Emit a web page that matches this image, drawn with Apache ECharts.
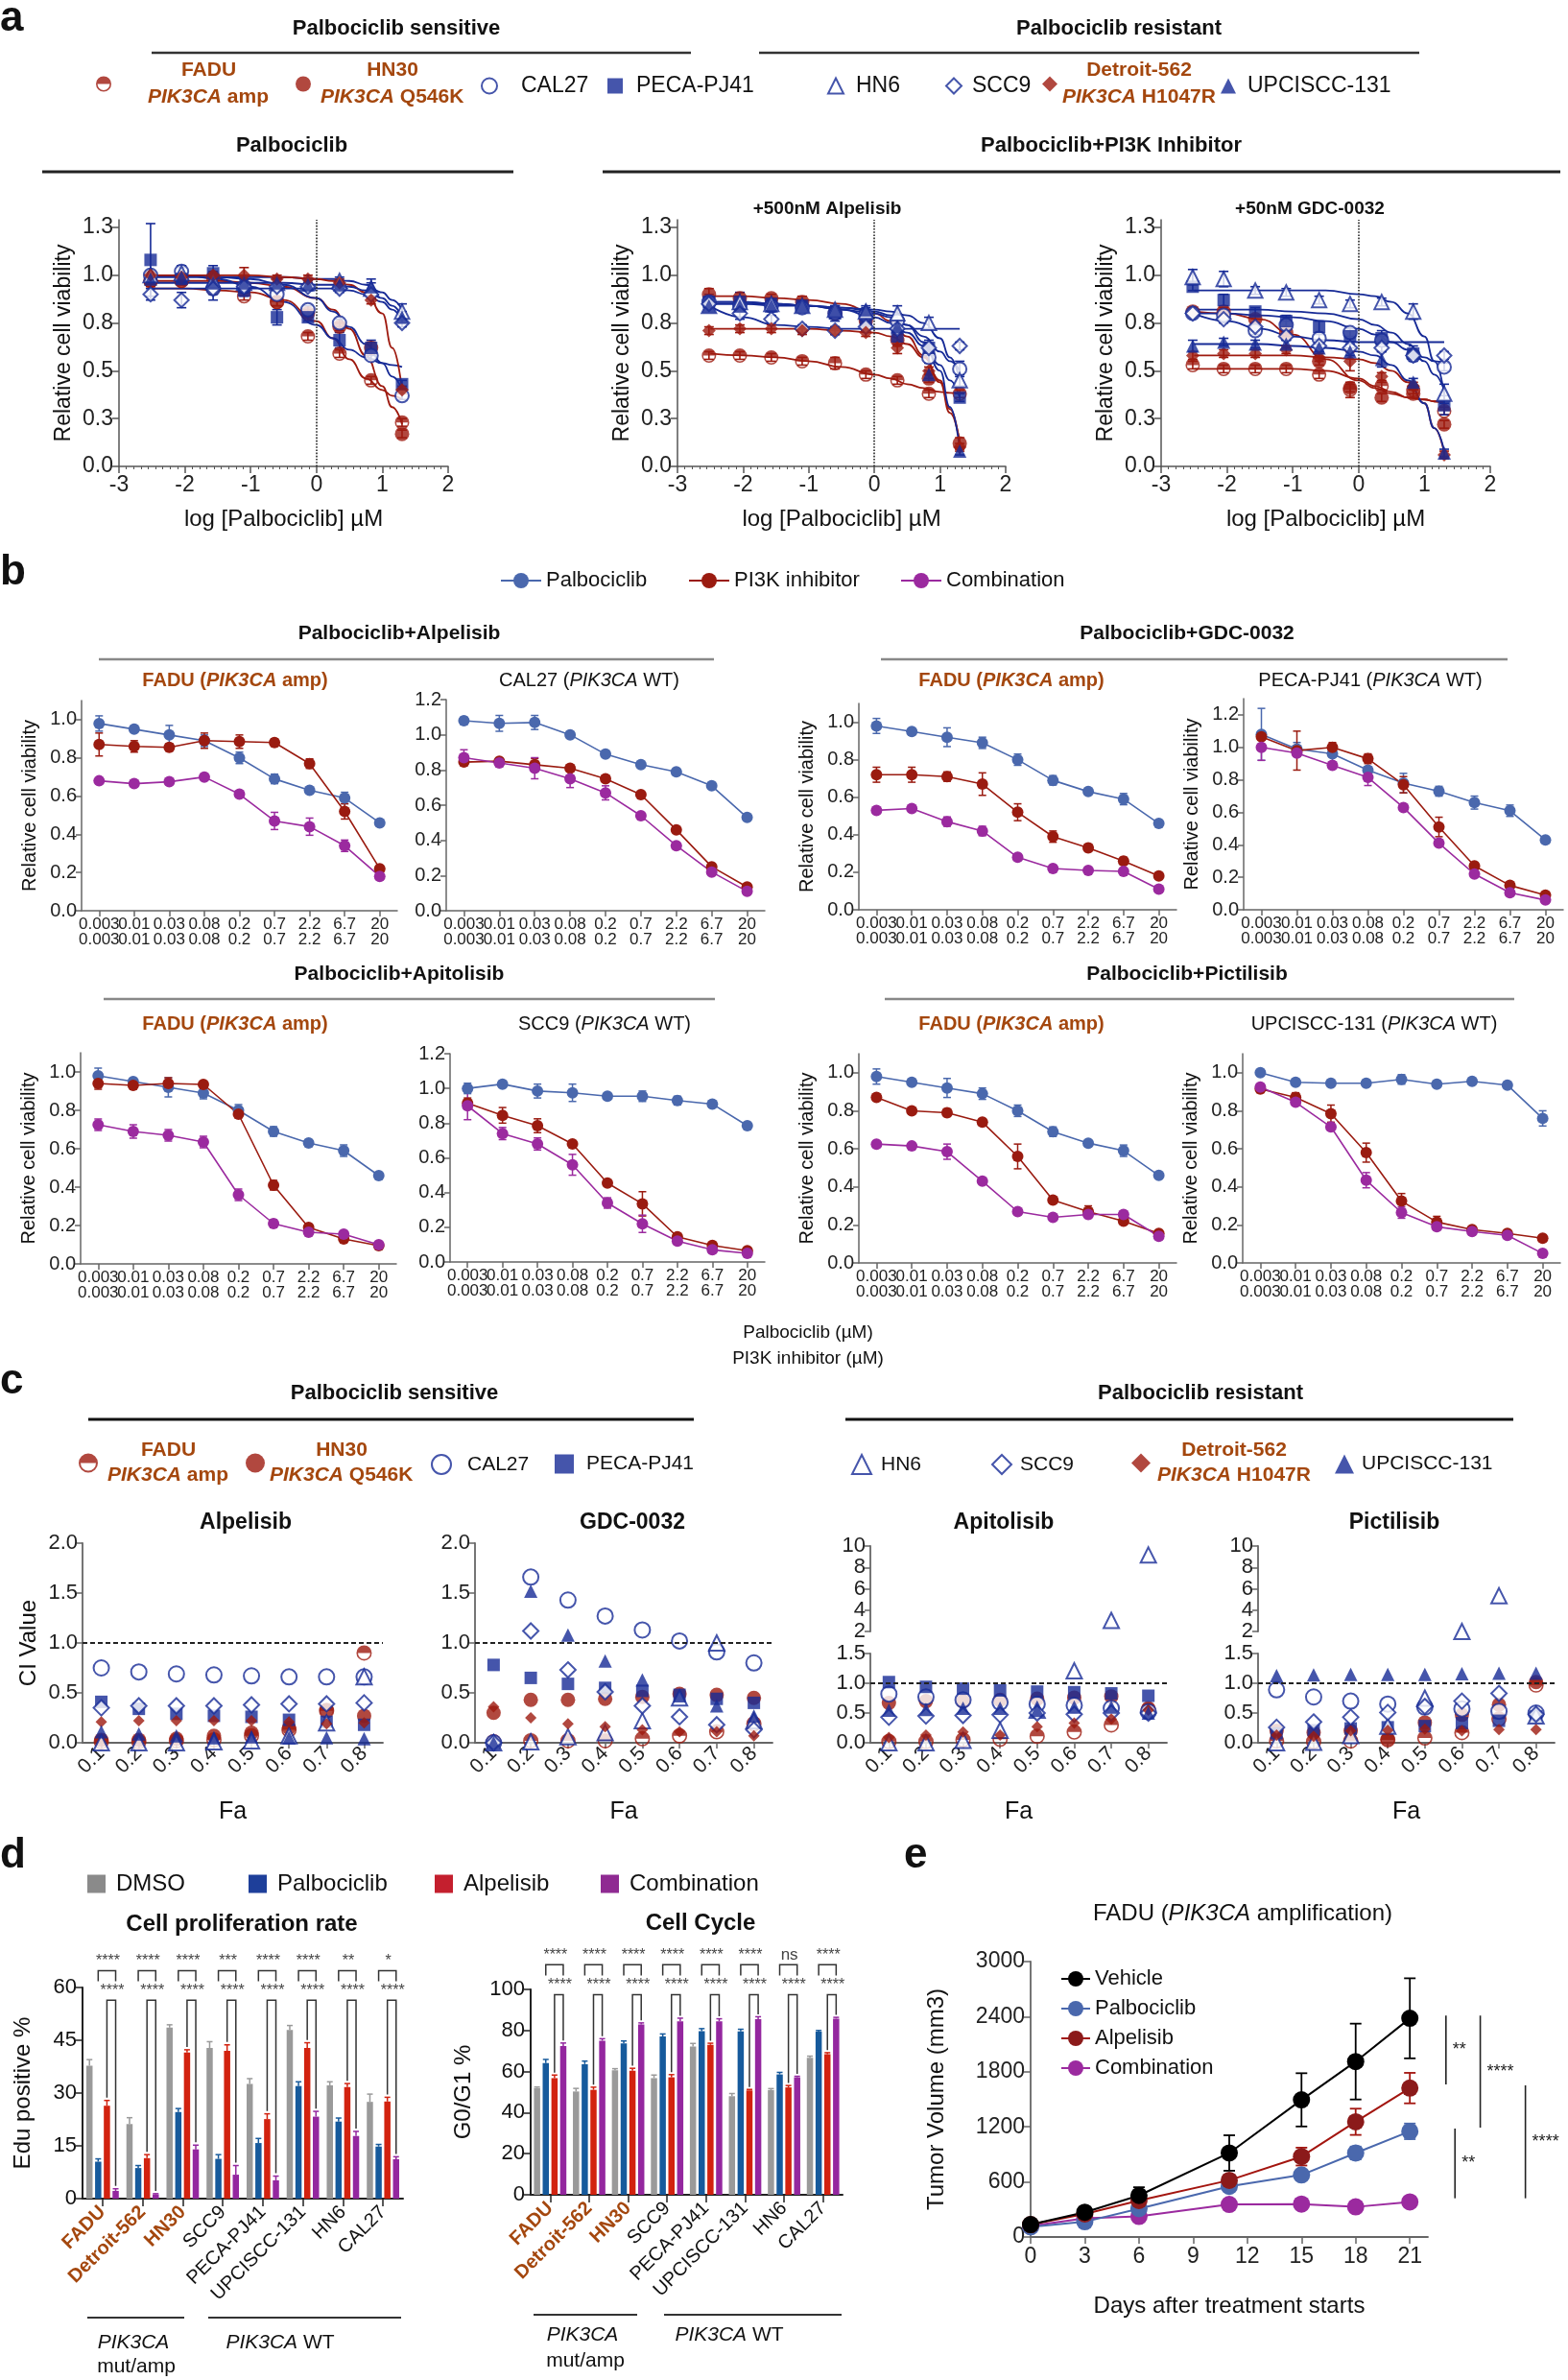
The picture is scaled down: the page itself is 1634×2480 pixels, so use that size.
<!DOCTYPE html>
<html>
<head>
<meta charset="utf-8">
<title>Palbociclib + PI3K inhibitor figure</title>
<script src="https://cdn.jsdelivr.net/npm/echarts@6.0.0/dist/echarts.min.js"></script>
<style>
html,body{margin:0;padding:0;background:#ffffff;}
#chart{width:1634px;height:2480px;}
</style>
</head>
<body>
<div id="chart"></div>
<script>
// ============================ DATA ============================
// ---- Panel a : dose-response (log µM) ----
const cellLines = ['FADU','HN30','CAL27','PECA-PJ41','HN6','SCC9','Detroit-562','UPCISCC-131'];
const aLogDose = [-2.52,-2.05,-1.57,-1.1,-0.6,-0.13,0.35,0.83,1.3];
const aFitLogDose = [-2.5,-2,-1.5,-1,-0.5,0,0.25,0.5,0.75,1,1.15,1.3];
const aXTicks = [-3,-2,-1,0,1,2];
const aYTicks = [0,0.25,0.5,0.75,1,1.25];
const aYTickLabels = ['0.0','0.3','0.5','0.8','1.0','1.3'];

const a1Pts = [
 [0.97,0.97,0.93,0.89,0.86,0.68,0.59,0.45,0.23],
 [0.97,0.97,0.99,0.94,0.86,0.80,0.73,0.62,0.17],
 [1.00,1.02,0.93,0.94,0.90,0.82,0.75,0.58,0.37],
 [1.08,0.98,1.01,0.92,0.78,0.78,0.66,0.62,0.43],
 [1.00,1.01,0.97,0.96,0.96,0.96,0.97,0.93,0.81],
 [0.90,0.87,0.93,0.94,0.94,0.94,0.93,0.90,0.75],
 [1.00,0.99,1.00,1.00,0.98,0.98,0.96,0.87,0.40],
 [0.98,0.99,0.96,0.96,0.96,0.95,0.95,0.94,0.78]];
const a1Err = [
 [0.02,0.02,0.02,0.02,0.02,0.02,0.02,0.02,0.02],
 [0.03,0.02,0.02,0.02,0.02,0.02,0.02,0.03,0.02],
 [0.02,0.03,0.03,0.02,0.02,0.02,0.02,0.02,0.02],
 [0.19,0.03,0.04,0.03,0.04,0.02,0.04,0.04,0.02],
 [0.02,0.03,0.03,0.02,0.02,0.02,0.02,0.03,0.04],
 [0.03,0.04,0.06,0.02,0.02,0.02,0.02,0.02,0.02],
 [0.02,0.02,0.02,0.04,0.02,0.02,0.02,0.02,0.02],
 [0.02,0.02,0.02,0.02,0.02,0.02,0.02,0.04,0.03]];
const a1Fit = [
 [0.93,0.93,0.92,0.91,0.87,0.76,0.67,0.56,0.46,0.40,0.37,0.35],
 [0.97,0.97,0.97,0.96,0.94,0.88,0.82,0.72,0.58,0.42,0.31,0.22],
 [1.00,1.00,0.99,0.98,0.95,0.88,0.81,0.73,0.64,0.54,0.47,0.40],
 [1.00,1.00,0.98,0.94,0.86,0.74,0.67,0.61,0.57,0.54,0.53,0.52],
 [0.99,0.99,0.99,0.99,0.99,0.98,0.98,0.97,0.95,0.91,0.87,0.82],
 [0.93,0.93,0.93,0.93,0.93,0.93,0.93,0.92,0.90,0.86,0.82,0.76],
 [1.00,1.00,1.00,1.00,0.99,0.98,0.97,0.95,0.91,0.80,0.62,0.40],
 [0.96,0.96,0.96,0.96,0.96,0.95,0.95,0.94,0.92,0.88,0.84,0.78]];

const a2Pts = [
 [0.58,0.58,0.57,0.55,0.54,0.48,0.45,0.38,0.38],
 [0.90,0.88,0.88,0.86,0.80,0.76,0.66,0.46,0.12],
 [0.86,0.84,0.84,0.83,0.80,0.79,0.76,0.57,0.51],
 [0.86,0.86,0.85,0.84,0.80,0.76,0.68,0.62,0.36],
 [0.84,0.86,0.85,0.84,0.82,0.81,0.80,0.75,0.45],
 [0.85,0.80,0.77,0.72,0.71,0.73,0.72,0.62,0.63],
 [0.71,0.72,0.72,0.71,0.71,0.70,0.62,0.50,0.10],
 [0.84,0.84,0.84,0.84,0.82,0.82,0.73,0.48,0.08]];
const a2Err = [
 [0.02,0.02,0.02,0.02,0.03,0.02,0.02,0.02,0.02],
 [0.03,0.03,0.02,0.03,0.02,0.02,0.03,0.02,0.03],
 [0.03,0.03,0.03,0.02,0.02,0.02,0.03,0.03,0.04],
 [0.04,0.05,0.03,0.03,0.04,0.04,0.04,0.04,0.02],
 [0.03,0.03,0.03,0.03,0.02,0.02,0.04,0.03,0.03],
 [0.03,0.03,0.02,0.02,0.02,0.02,0.02,0.02,0.02],
 [0.02,0.02,0.02,0.02,0.02,0.02,0.03,0.02,0.02],
 [0.02,0.02,0.02,0.02,0.02,0.02,0.02,0.02,0.02]];
const a2Fit = [
 [0.59,0.58,0.57,0.55,0.52,0.48,0.46,0.43,0.41,0.39,0.385,0.38],
 [0.89,0.89,0.88,0.87,0.85,0.80,0.76,0.68,0.58,0.44,0.28,0.13],
 [0.86,0.86,0.85,0.84,0.82,0.80,0.78,0.74,0.68,0.60,0.55,0.50],
 [0.86,0.86,0.85,0.84,0.82,0.78,0.75,0.70,0.63,0.53,0.45,0.36],
 [0.85,0.85,0.85,0.84,0.83,0.82,0.81,0.79,0.75,0.67,0.57,0.45],
 [0.84,0.78,0.74,0.73,0.72,0.72,0.72,0.72,0.72,0.72,0.72,0.72],
 [0.72,0.72,0.72,0.72,0.71,0.70,0.68,0.64,0.57,0.45,0.30,0.12],
 [0.85,0.85,0.84,0.84,0.83,0.81,0.79,0.74,0.65,0.50,0.31,0.09]];

const a3Pts = [
 [0.53,0.51,0.51,0.51,0.48,0.40,0.42,0.40,0.29],
 [0.81,0.81,0.77,0.70,0.55,0.41,0.36,0.38,0.22],
 [0.80,0.79,0.71,0.74,0.67,0.70,0.66,0.58,0.52],
 [0.94,0.87,0.81,0.76,0.73,0.68,0.67,0.59,0.32],
 [0.99,0.98,0.92,0.91,0.87,0.85,0.86,0.81,0.38],
 [0.80,0.77,0.73,0.68,0.63,0.62,0.62,0.58,0.58],
 [0.58,0.59,0.59,0.61,0.57,0.55,0.47,0.42,0.06],
 [0.63,0.65,0.64,0.64,0.62,0.60,0.56,0.44,0.07]];
const a3Err = [
 [0.02,0.02,0.02,0.02,0.02,0.04,0.02,0.02,0.02],
 [0.02,0.02,0.02,0.02,0.02,0.02,0.02,0.02,0.02],
 [0.02,0.02,0.02,0.02,0.02,0.02,0.02,0.02,0.02],
 [0.02,0.03,0.02,0.03,0.03,0.03,0.04,0.04,0.05],
 [0.04,0.04,0.02,0.02,0.02,0.02,0.02,0.04,0.05],
 [0.02,0.02,0.02,0.02,0.03,0.02,0.02,0.02,0.02],
 [0.02,0.02,0.02,0.02,0.02,0.05,0.02,0.02,0.02],
 [0.03,0.02,0.02,0.02,0.02,0.02,0.04,0.02,0.02]];
const a3Fit = [
 [0.51,0.51,0.51,0.51,0.50,0.46,0.42,0.39,0.36,0.35,0.34,0.34],
 [0.81,0.80,0.77,0.69,0.56,0.45,0.41,0.38,0.36,0.35,0.34,0.33],
 [0.80,0.80,0.79,0.78,0.76,0.72,0.69,0.65,0.61,0.57,0.55,0.54],
 [0.82,0.82,0.82,0.81,0.80,0.77,0.74,0.70,0.64,0.55,0.48,0.40],
 [0.92,0.92,0.92,0.92,0.92,0.90,0.89,0.86,0.80,0.68,0.55,0.38],
 [0.80,0.76,0.72,0.68,0.66,0.65,0.65,0.65,0.65,0.65,0.65,0.65],
 [0.58,0.58,0.58,0.58,0.57,0.56,0.54,0.50,0.44,0.33,0.20,0.07],
 [0.64,0.64,0.64,0.63,0.62,0.60,0.58,0.53,0.45,0.33,0.20,0.08]];

// ---- Panel b : combination dose-response ----
const bDosePalbo = ['0.003','0.01','0.03','0.08','0.2','0.7','2.2','6.7','20'];
const bDosePI3K  = ['0.003','0.01','0.03','0.08','0.2','0.7','2.2','6.7','20'];
const bYTicks10 = [0,0.2,0.4,0.6,0.8,1.0];
const bYTicks12 = [0,0.2,0.4,0.6,0.8,1.0,1.2];
const bYMax = [1.1,1.2,1.1,1.3,1.1,1.2,1.1,1.1];

const faduPalbo    = [0.98,0.95,0.92,0.89,0.80,0.69,0.63,0.59,0.46];
const faduPalboErr = [0.04,0.01,0.05,0.03,0.03,0.025,0.01,0.03,0.01];
const b1PI3K = [0.87,0.86,0.855,0.89,0.885,0.88,0.77,0.52,0.22];
const b1PI3KErr = [0.06,0.03,0.02,0.04,0.035,0.02,0.025,0.04,0.01];
const b1Combo = [0.68,0.665,0.675,0.70,0.61,0.47,0.44,0.34,0.18];
const b1ComboErr = [0.01,0.01,0.01,0.01,0.01,0.045,0.045,0.03,0.01];
const b2Palbo = [1.08,1.065,1.07,1.0,0.89,0.83,0.79,0.71,0.53];
const b2PalboErr = [0.02,0.045,0.04,0.01,0.01,0.01,0.01,0.01,0.01];
const b2PI3K = [0.845,0.85,0.83,0.81,0.75,0.66,0.46,0.25,0.135];
const b2PI3KErr = [0.01,0.01,0.035,0.02,0.01,0.01,0.01,0.01,0.01];
const b2Combo = [0.87,0.84,0.81,0.75,0.67,0.54,0.37,0.22,0.11];
const b2ComboErr = [0.045,0.02,0.06,0.05,0.04,0.01,0.01,0.01,0.01];
const b3PI3K = [0.72,0.72,0.71,0.67,0.52,0.39,0.33,0.26,0.18];
const b3PI3KErr = [0.04,0.04,0.025,0.06,0.045,0.03,0.02,0.02,0.01];
const b3Combo = [0.53,0.54,0.47,0.42,0.28,0.22,0.21,0.205,0.11];
const b3ComboErr = [0.01,0.01,0.025,0.025,0.01,0.01,0.01,0.01,0.01];
const b4Palbo = [1.08,0.99,0.96,0.86,0.78,0.73,0.66,0.61,0.43];
const b4PalboErr = [0.16,0.04,0.05,0.02,0.06,0.03,0.04,0.035,0.01];
const b4PI3K = [1.065,0.98,1.0,0.93,0.77,0.51,0.27,0.15,0.09];
const b4PI3KErr = [0.02,0.12,0.03,0.03,0.05,0.06,0.01,0.01,0.01];
const b4Combo = [1.0,0.965,0.89,0.815,0.63,0.41,0.22,0.105,0.06];
const b4ComboErr = [0.08,0.01,0.01,0.05,0.01,0.01,0.01,0.01,0.01];
const b5PI3K = [0.94,0.93,0.94,0.935,0.78,0.41,0.19,0.13,0.095];
const b5PI3KErr = [0.03,0.01,0.03,0.01,0.01,0.025,0.01,0.01,0.01];
const b5Combo = [0.725,0.69,0.67,0.635,0.36,0.21,0.165,0.155,0.10];
const b5ComboErr = [0.03,0.035,0.03,0.03,0.03,0.02,0.01,0.01,0.01];
const b6Palbo = [1.0,1.025,0.985,0.975,0.955,0.955,0.93,0.91,0.785];
const b6PalboErr = [0.03,0.01,0.04,0.05,0.01,0.03,0.025,0.01,0.01];
const b6PI3K = [0.915,0.845,0.785,0.68,0.455,0.335,0.145,0.095,0.065];
const b6PI3KErr = [0.03,0.045,0.04,0.01,0.01,0.07,0.015,0.01,0.01];
const b6Combo = [0.90,0.74,0.68,0.56,0.34,0.22,0.12,0.07,0.05];
const b6ComboErr = [0.08,0.035,0.035,0.06,0.03,0.05,0.01,0.01,0.01];
const b7PI3K = [0.87,0.80,0.79,0.74,0.56,0.33,0.27,0.22,0.155];
const b7PI3KErr = [0.01,0.01,0.02,0.01,0.065,0.01,0.03,0.01,0.01];
const b7Combo = [0.625,0.615,0.585,0.43,0.27,0.24,0.255,0.255,0.14];
const b7ComboErr = [0.01,0.01,0.04,0.01,0.01,0.01,0.02,0.01,0.01];
const b8Palbo = [1.0,0.95,0.945,0.945,0.965,0.94,0.955,0.935,0.76];
const b8PalboErr = [0.01,0.01,0.01,0.01,0.025,0.01,0.01,0.01,0.04];
const b8PI3K = [0.915,0.87,0.785,0.58,0.325,0.215,0.175,0.155,0.13];
const b8PI3KErr = [0.02,0.025,0.045,0.05,0.04,0.03,0.01,0.01,0.01];
const b8Combo = [0.925,0.845,0.715,0.435,0.265,0.19,0.165,0.145,0.05];
const b8ComboErr = [0.01,0.01,0.01,0.04,0.03,0.01,0.01,0.01,0.01];

// ---- Panel c : combination index ----
const cFa = ['0.1','0.2','0.3','0.4','0.5','0.6','0.7','0.8'];
const cYTicks2 = [0,0.5,1.0,1.5,2.0];
const cYTicksLow = [0,0.5,1.0,1.5];
const cYTicksHigh = [2,4,6,8,10];
const c1CI = [
 [0.01,0.01,0.02,0.03,0.07,0.13,0.32,0.90],
 [0.03,0.03,0.04,0.07,0.10,0.15,0.33,0.27],
 [0.75,0.71,0.69,0.68,0.67,0.66,0.66,0.66],
 [0.41,0.34,0.29,0.27,0.26,0.23,0.21,0.18],
 [0.00,0.00,0.00,0.01,0.02,0.07,0.20,0.66],
 [0.35,0.37,0.37,0.37,0.38,0.39,0.39,0.40],
 [0.21,0.22,0.22,0.22,0.22,0.21,0.19,0.20],
 [0.11,0.09,0.07,0.05,0.06,0.05,0.05,0.04]];
const c2CI = [
 [0.01,0.02,0.02,0.02,0.04,0.07,0.11,0.19],
 [0.30,0.43,0.43,0.44,0.46,0.49,0.48,0.45],
 [0.00,1.66,1.43,1.27,1.13,1.02,0.91,0.80],
 [0.78,0.65,0.59,0.55,0.52,0.48,0.44,0.40],
 [0.00,0.01,0.06,0.10,0.22,0.45,1.00,0.22],
 [0.00,1.12,0.73,0.51,0.37,0.26,0.18,0.13],
 [0.36,0.25,0.19,0.16,0.13,0.11,0.11,0.07],
 [0.00,1.52,1.08,0.82,0.63,0.47,0.37,0.27]];
const c3CI = [
 [0.02,0.02,0.05,0.06,0.11,0.18,0.30,0.55],
 [0.67,0.70,0.70,0.72,0.74,0.76,0.78,0.58],
 [0.82,0.77,0.72,0.68,0.65,0.63,0.58,0.52],
 [1.02,0.94,0.91,0.88,0.86,0.85,0.83,0.79],
 [0.00,0.00,0.04,0.21,0.55,1.21,3.04,9.16],
 [0.43,0.45,0.46,0.47,0.50,0.48,0.50,0.50],
 [0.09,0.13,0.18,0.13,0.27,0.33,0.40,0.55],
 [0.55,0.56,0.58,0.58,0.55,0.60,0.60,0.50]];
const c4CI = [
 [0.03,0.02,0.03,0.05,0.08,0.17,0.40,0.97],
 [0.20,0.17,0.20,0.06,0.34,0.47,0.64,1.02],
 [0.89,0.77,0.70,0.65,0.60,0.57,0.53,0.50],
 [0.16,0.21,0.24,0.26,0.28,0.33,0.37,0.44],
 [0.00,0.01,0.12,0.28,0.75,2.00,5.34,0.45],
 [0.26,0.35,0.43,0.51,0.61,0.70,0.83,0.48],
 [0.13,0.11,0.20,0.21,0.23,0.20,0.22,0.22],
 [1.13,1.14,1.15,1.15,1.15,1.16,1.17,1.17]];

// ---- Panel d : EdU / cell cycle ----
const dGroups = ['FADU','Detroit-562','HN30','SCC9','PECA-PJ41','UPCISCC-131','HN6','CAL27'];
const dMutant = ['FADU','Detroit-562','HN30'];
const eduDMSO  = [37.8,21.2,48.6,42.8,32.6,47.9,32.2,27.5];
const eduPalbo = [10.5,8.7,24.6,11.3,15.8,32.0,21.9,14.8];
const eduAlpe  = [26.4,11.5,41.5,42.0,22.6,42.8,31.7,27.6];
const eduCombo = [2.2,1.2,14.0,6.8,5.2,23.3,17.8,11.2];
const eduDMSOErr  = [1.7,1.8,0.8,1.8,1.5,1.3,1.0,2.2];
const eduPalboErr = [0.8,0.7,1.0,1.2,1.3,1.2,1.0,0.6];
const eduAlpeErr  = [1.5,1.0,0.8,1.7,1.5,1.5,1.0,1.2];
const eduComboErr = [0.6,0.2,1.2,2.6,1.2,1.5,1.3,0.7];
const eduSigPC = ['****','****','****','***','****','****','**','*'];
const eduSigAC = ['****','****','****','****','****','****','****','****'];
const g1DMSO  = [52.0,50.3,60.6,56.8,72.2,48.0,51.0,66.7];
const g1Palbo = [64.1,63.6,73.7,77.1,79.7,79.6,58.6,79.4];
const g1Alpe  = [56.8,51.1,60.4,57.2,73.0,50.8,52.3,68.5];
const g1Combo = [72.4,75.0,83.0,84.5,84.5,85.5,57.2,85.8];
const g1DMSOErr  = [0.5,1.5,0.8,1.5,1.5,1.3,0.7,0.8];
const g1PalboErr = [1.8,1.5,1.2,1.2,1.2,1.0,1.0,0.6];
const g1AlpeErr  = [1.5,1.3,1.2,1.3,0.8,0.5,0.9,0.7];
const g1ComboErr = [1.5,1.0,0.7,1.5,1.2,1.2,0.5,0.6];
const g1SigPC = ['****','****','****','****','****','****','ns','****'];
const g1SigAC = ['****','****','****','****','****','****','****','****'];

// ---- Panel e : tumor growth ----
const eDays = [0,3,6,11,15,18,21];
const eXTicks = [0,3,6,9,12,15,18,21];
const eVehicle = [135,270,452,915,1494,1911,2382];
const eVehicleErr = [30,40,90,193,290,413,436];
const ePalbo = [110,166,309,552,676,915,1151];
const ePalboErr = [20,30,40,60,40,70,85];
const eAlpe = [135,251,398,618,876,1255,1622];
const eAlpeErr = [25,30,40,50,97,143,166];
const eCombo = [120,205,224,355,359,328,382];
const eComboErr = [20,25,30,40,40,30,40];
const eCompPairs = [['Vehicle','Alpelisib'],['Vehicle','Palbociclib'],['Palbociclib','Combination'],['Alpelisib','Combination']];
const eCompLabels = ['**','****','**','****'];

// ============================ STYLE / HELPERS ============================
const mctx = document.createElement('canvas').getContext('2d');
function tw(text, font){ mctx.font = font; return mctx.measureText(text).width; }
const FA = "'Liberation Sans', Arial, Helvetica, sans-serif";
const FN = FA;

const RED = '#9e1a0f', BLUE = '#162a96', ORANGE = '#a4470e';
const C_PAL = '#4a68ad', C_PI = '#9a1b10', C_CO = '#9b2a9f';
const C_DMSO = '#9a9a9a', C_DPAL = '#165a9c', C_DALP = '#d2220f', C_DCOM = '#94279f';
const AXC = '#555';

const HALF = 'path://M0,10A10,10,0,1,1,20,10A10,10,0,1,1,0,10ZM2,10A8,8,0,1,0,18,10A8,8,0,1,0,2,10ZM0,10A10,10,0,0,1,20,10Z';
const cellStyle = {
 'FADU':        {symbol:HALF, color:RED, sA:15, sC:16, empty:false},
 'HN30':        {symbol:'circle', color:RED, sA:15, sC:15, empty:false},
 'CAL27':       {symbol:'emptyCircle', color:BLUE, sA:14, sC:16, empty:true},
 'PECA-PJ41':   {symbol:'rect', color:BLUE, sA:13, sC:13, empty:false},
 'HN6':         {symbol:'emptyTriangle', color:BLUE, sA:15, sC:16, empty:true},
 'SCC9':        {symbol:'emptyDiamond', color:BLUE, sA:15, sC:16, empty:true},
 'Detroit-562': {symbol:'diamond', color:RED, sA:14, sC:12, empty:false},
 'UPCISCC-131': {symbol:'triangle', color:BLUE, sA:14, sC:14, empty:false}
};
function itemSt(st){ return st.empty ? {color:st.color, borderColor:st.color, borderWidth:1.6} : {color:st.color, borderWidth:0}; }
const cellLabel = {
 'FADU': {l1:'FADU', l2:[['PIK3CA','i'],[' amp','n']]},
 'HN30': {l1:'HN30', l2:[['PIK3CA','i'],[' Q546K','n']]},
 'Detroit-562': {l1:'Detroit-562', l2:[['PIK3CA','i'],[' H1047R','n']]}
};
function tickLabel(vals, labels, v){ const i = vals.findIndex(t => Math.abs(t - v) < 1e-9); return i >= 0 ? labels[i] : ''; }
function axLine(w, c){ return {show:true, onZero:false, lineStyle:{color:c || AXC, width:w || 1.5}}; }
function axTick(len, extra, c){ return Object.assign({show:true, inside:false, length:len || 6, lineStyle:{color:c || AXC, width:1.5}}, extra || {}); }
function lbl(size, fam, extra){ return Object.assign({show:true, fontFamily:fam || FN, fontSize:size, color:'#222', margin:8}, extra || {}); }
const plain = v => String(v);

function errRender(color, cap, lw){
  return function(params, api){
    const x = api.value(0), y = api.value(1), e = api.value(2);
    if (!(e > 0)) return null;
    const p1 = api.coord([x, y + e]), p2 = api.coord([x, y - e]);
    const s = {stroke:color, lineWidth:lw, fill:null};
    return {type:'group', children:[
      {type:'line', shape:{x1:p1[0], y1:p1[1], x2:p2[0], y2:p2[1]}, style:s},
      {type:'line', shape:{x1:p1[0]-cap, y1:p1[1], x2:p1[0]+cap, y2:p1[1]}, style:s},
      {type:'line', shape:{x1:p2[0]-cap, y1:p2[1], x2:p2[0]+cap, y2:p2[1]}, style:s}]};
  };
}
const D_BAR_W = 6.5, D_BAR_GAP = 0.4;
function barErrRender(k, color){
  return function(params, api){
    const i = api.value(0), v = api.value(1), e = api.value(2);
    const off = (k - 1.5) * D_BAR_W * (1 + D_BAR_GAP);
    const p1 = api.coord([i, v]), p2 = api.coord([i, v + e]);
    const x = p1[0] + off, s = {stroke:color, lineWidth:1.5, fill:null};
    return {type:'group', children:[
      {type:'line', shape:{x1:x, y1:p1[1], x2:x, y2:p2[1]}, style:s},
      {type:'line', shape:{x1:x-3, y1:p2[1], x2:x+3, y2:p2[1]}, style:s}]};
  };
}
function bracketRender(cfg){
  return function(params, api){
    const i = params.dataIndex;
    const step = D_BAR_W * (1 + D_BAR_GAP);
    const c = api.coord([i, cfg.top]);
    const xl = c[0] + (cfg.left - 1.5) * step, xr = c[0] + (cfg.right - 1.5) * step;
    const yT = c[1];
    const yl = api.coord([i, cfg.legL(i)])[1], yr = api.coord([i, cfg.legR(i)])[1];
    const s = {stroke:'#333', lineWidth:1.5, fill:null};
    const lab = cfg.labels[i];
    return {type:'group', children:[
      {type:'polyline', shape:{points:[[xl, yl], [xl, yT], [xr, yT], [xr, yr]]}, style:s},
      {type:'text', x:(xl + xr) / 2 + 1, y:yT - 2, style:{text:lab, fontFamily:FA, fontSize:lab === 'ns' ? 17 : 16, fill:'#444', align:'center', verticalAlign:'bottom'}}]};
  };
}

// graphic helpers
function T(x, y, text, size, o){
  o = o || {};
  const st = {text, fill:o.color || '#111', fontFamily:o.family || FN, fontSize:size, fontWeight:o.bold ? 'bold' : 'normal', fontStyle:o.italic ? 'italic' : 'normal', align:o.align || 'center', verticalAlign:o.valign || 'middle'};
  if (o.rich) st.rich = o.rich;
  return {type:'text', x, y, silent:true, z:50, style:st};
}
function richSet(size, color, bold, fam){
  const base = {fontFamily:fam || FN, fontSize:size, fontWeight:bold ? 'bold' : 'normal', fill:color, color:color};
  return {r:base, i:Object.assign({}, base, {fontStyle:'italic'})};
}
function RT(x, y, parts, size, color, bold, fam){
  const text = parts.map(p => '{' + (p[1] ? 'i' : 'r') + '|' + p[0] + '}').join('');
  return T(x, y, text, size, {color, bold, family:fam, rich:richSet(size, color, bold, fam)});
}
function HL(x1, x2, y, w, c){ return {type:'line', silent:true, z:50, shape:{x1, y1:y, x2, y2:y}, style:{stroke:c, lineWidth:w}}; }

// ============================ LAYOUT ============================
const grids = [
 {left:124, top:229, width:343, height:257},
 {left:706, top:229, width:342, height:257},
 {left:1210, top:229, width:343, height:257},
 {left:85, top:730, width:329, height:219},
 {left:465, top:729, width:332, height:220},
 {left:895, top:733, width:331, height:215},
 {left:1296, top:728, width:333, height:220},
 {left:84, top:1097, width:329, height:220},
 {left:469, top:1098, width:328, height:217},
 {left:895, top:1098, width:331, height:218},
 {left:1295, top:1098, width:331, height:218},
 {left:86, top:1608, width:313, height:208},
 {left:495, top:1608, width:310, height:208},
 {left:907, top:1611, width:309, height:89},
 {left:907, top:1723, width:309, height:93},
 {left:1311, top:1611, width:309, height:89},
 {left:1311, top:1723, width:309, height:93},
 {left:86, top:2071, width:334, height:220},
 {left:553, top:2073, width:325, height:214},
 {left:1074, top:2044, width:414, height:287}
].map(g => Object.assign({containLabel:false, outerBoundsMode:'none'}, g));

const xAxes = [], yAxes = [], series = [], legends = [];

// ---------------- Panel a ----------------
for (let g = 0; g < 3; g++) {
  xAxes.push({gridIndex:g, type:'value', min:aXTicks[0], max:aXTicks[aXTicks.length-1], interval:1,
    axisLine:axLine(1.5), axisTick:axTick(7), minorTick:{show:true, splitNumber:9, length:3, lineStyle:{color:AXC}},
    axisLabel:lbl(23, FN, {formatter:plain}), splitLine:{show:false}, minorSplitLine:{show:false},
    name:'log [Palbociclib] µM', nameLocation:'middle', nameGap:43, nameTextStyle:{fontFamily:FN, fontSize:24, color:'#111'}});
  yAxes.push({gridIndex:g, type:'value', min:0, max:1.29,
    axisLine:axLine(1.5), axisTick:axTick(7, {customValues:aYTicks}),
    axisLabel:lbl(23, FN, {customValues:aYTicks, formatter:v => tickLabel(aYTicks, aYTickLabels, v), margin:6}),
    splitLine:{show:false},
    name:'Relative cell viability', nameLocation:'middle', nameGap:46, nameTextStyle:{fontFamily:FA, fontSize:23, color:'#111'}});
}
[[a1Pts, a1Err, a1Fit], [a2Pts, a2Err, a2Fit], [a3Pts, a3Err, a3Fit]].forEach(([pts, err, fit], g) => {
  cellLines.forEach((cl, j) => {
    const st = cellStyle[cl];
    const fitS = {type:'line', name:'fit ' + cl, xAxisIndex:g, yAxisIndex:g, silent:true, z:2,
      data:aFitLogDose.map((x, i) => [x, fit[j][i]]), smooth:0.5, smoothMonotone:'x', showSymbol:false, symbol:'none',
      lineStyle:{color:st.color, width:1.8}};
    if (j === 0) fitS.markLine = {silent:true, symbol:'none', label:{show:false}, lineStyle:{type:'dotted', color:'#222', width:1.6}, data:[{xAxis:0}]};
    series.push(fitS);
    series.push({type:'custom', name:'err ' + cl, xAxisIndex:g, yAxisIndex:g, silent:true, z:3,
      data:aLogDose.map((x, i) => [x, pts[j][i], err[j][i]]), renderItem:errRender(st.color, 5, 1.6)});
    series.push({type:'scatter', name:cl, xAxisIndex:g, yAxisIndex:g, silent:true, z:4,
      data:aLogDose.map((x, i) => [x, pts[j][i]]), symbol:st.symbol, symbolSize:st.sA, itemStyle:itemSt(st)});
  });
});

// ---------------- Panel b ----------------
const bXCats = bDosePalbo.map((d, i) => d + '\n' + bDosePI3K[i]);
const bCharts = [
 [faduPalbo, faduPalboErr, b1PI3K, b1PI3KErr, b1Combo, b1ComboErr],
 [b2Palbo, b2PalboErr, b2PI3K, b2PI3KErr, b2Combo, b2ComboErr],
 [faduPalbo, faduPalboErr, b3PI3K, b3PI3KErr, b3Combo, b3ComboErr],
 [b4Palbo, b4PalboErr, b4PI3K, b4PI3KErr, b4Combo, b4ComboErr],
 [faduPalbo, faduPalboErr, b5PI3K, b5PI3KErr, b5Combo, b5ComboErr],
 [b6Palbo, b6PalboErr, b6PI3K, b6PI3KErr, b6Combo, b6ComboErr],
 [faduPalbo, faduPalboErr, b7PI3K, b7PI3KErr, b7Combo, b7ComboErr],
 [b8Palbo, b8PalboErr, b8PI3K, b8PI3KErr, b8Combo, b8ComboErr]];
const bHasYName = [true, false, true, true, true, false, true, true];
bCharts.forEach((c, k) => {
  const gi = 3 + k;
  const ticks = bYMax[k] >= 1.2 ? bYTicks12 : bYTicks10;
  xAxes.push({gridIndex:gi, type:'category', data:bXCats, axisLine:axLine(1.5, '#666'), axisTick:axTick(6, {alignWithLabel:true}, '#666'),
    axisLabel:lbl(17, FN, {interval:0, lineHeight:16, margin:6, hideOverlap:false}), splitLine:{show:false}});
  yAxes.push({gridIndex:gi, type:'value', min:0, max:bYMax[k], axisLine:axLine(1.5, '#666'), axisTick:axTick(6, {customValues:ticks}, '#666'),
    axisLabel:lbl(20, FN, {customValues:ticks, formatter:v => v.toFixed(1), margin:5}), splitLine:{show:false},
    name:bHasYName[k] ? 'Relative cell viability' : '', nameLocation:'middle', nameGap:44, nameTextStyle:{fontFamily:FA, fontSize:20, color:'#111'}});
  [['b:Palbociclib', c[0], c[1], C_PAL], ['b:PI3K inhibitor', c[2], c[3], C_PI], ['b:Combination', c[4], c[5], C_CO]].forEach(([name, vals, errs, col]) => {
    series.push({type:'custom', name:name + ' err', xAxisIndex:gi, yAxisIndex:gi, silent:true, z:2,
      data:vals.map((v, i) => [i, v, errs[i]]), renderItem:errRender(col, 4, 1.5)});
    series.push({type:'line', name, xAxisIndex:gi, yAxisIndex:gi, silent:true, z:3, data:vals,
      symbol:'circle', symbolSize:12, lineStyle:{color:col, width:1.6}, itemStyle:{color:col}});
  });
});

// ---------------- Panel c ----------------
function cXAxis(gi, show){
  return {gridIndex:gi, type:'category', data:cFa, show, axisLine:axLine(1.8, '#666'), axisTick:axTick(6, {alignWithLabel:true}, '#666'),
    axisLabel:lbl(21, FN, {interval:0, rotate:45, margin:8}), splitLine:{show:false},
    name:show ? 'Fa' : '', nameLocation:'middle', nameGap:60, nameTextStyle:{fontFamily:FN, fontSize:25, color:'#111'}};
}
function cYAxis(gi, min, max, ticks, fmt, yname){
  return {gridIndex:gi, type:'value', min, max, axisLine:axLine(1.8, '#666'), axisTick:axTick(6, {customValues:ticks}, '#666'),
    axisLabel:lbl(22, FN, {customValues:ticks, formatter:fmt, margin:5}), splitLine:{show:false},
    name:yname || '', nameLocation:'middle', nameGap:44, nameTextStyle:{fontFamily:FA, fontSize:24, color:'#111'}};
}
const f1 = v => v.toFixed(1), f0 = v => String(Math.round(v));
xAxes.push(cXAxis(11, true)); yAxes.push(cYAxis(11, 0, 2, cYTicks2, f1, 'CI Value'));
xAxes.push(cXAxis(12, true)); yAxes.push(cYAxis(12, 0, 2, cYTicks2, f1));
xAxes.push(cXAxis(13, false)); yAxes.push(cYAxis(13, 2, 10, cYTicksHigh, f0));
xAxes.push(cXAxis(14, true)); yAxes.push(cYAxis(14, 0, 1.5, cYTicksLow, f1));
xAxes.push(cXAxis(15, false)); yAxes.push(cYAxis(15, 2, 10, cYTicksHigh, f0));
xAxes.push(cXAxis(16, true)); yAxes.push(cYAxis(16, 0, 1.5, cYTicksLow, f1));
const cRefLine = {silent:true, symbol:'none', label:{show:false}, lineStyle:{type:[5,3], color:'#222', width:1.8}, data:[{yAxis:1}]};
function cScatter(cl, gi, data, st, withLine){
  const s = {type:'scatter', name:'c:' + cl, xAxisIndex:gi, yAxisIndex:gi, silent:true, z:3, data,
    symbol:st.symbol, symbolSize:st.sC, itemStyle:itemSt(st)};
  if (withLine) s.markLine = cRefLine;
  return s;
}
[c1CI, c2CI, c3CI, c4CI].forEach((arr, k) => {
  cellLines.forEach((cl, j) => {
    const st = cellStyle[cl];
    const pts = arr[j].map((v, i) => [i, v]);
    if (k < 2) {
      series.push(cScatter(cl, 11 + k, pts, st, j === 0));
    } else {
      const up = 13 + (k - 2) * 2, lo = up + 1;
      series.push(cScatter(cl, lo, pts.filter(p => p[1] <= 1.5), st, j === 0));
      series.push(cScatter(cl, up, pts.filter(p => p[1] > 1.5), st, false));
    }
  });
});

// ---------------- Panel d ----------------
function dXAxis(gi){
  return {gridIndex:gi, type:'category', data:dGroups, axisLine:axLine(2, '#222'), axisTick:axTick(8, {alignWithLabel:true}, '#222'),
    axisLabel:{show:true, interval:0, rotate:45, margin:11, fontFamily:FA, fontSize:20, color:'#111',
      formatter:v => dMutant.indexOf(v) >= 0 ? '{m|' + v + '}' : '{n|' + v + '}',
      rich:{m:{fontFamily:FA, fontSize:20, fontWeight:'bold', color:ORANGE}, n:{fontFamily:FA, fontSize:20, color:'#111'}}},
    splitLine:{show:false}};
}
xAxes.push(dXAxis(17));
yAxes.push({gridIndex:17, type:'value', min:0, max:60, interval:15, axisLine:axLine(2, '#222'), axisTick:axTick(7, {}, '#222'),
  axisLabel:lbl(22, FA, {margin:6, color:'#111', formatter:plain}), splitLine:{show:false},
  name:'Edu positive %', nameLocation:'middle', nameGap:50, nameTextStyle:{fontFamily:FA, fontSize:24, color:'#111'}});
xAxes.push(dXAxis(18));
yAxes.push({gridIndex:18, type:'value', min:0, max:100, interval:20, axisLine:axLine(2, '#222'), axisTick:axTick(7, {}, '#222'),
  axisLabel:lbl(22, FA, {margin:6, color:'#111', formatter:plain}), splitLine:{show:false},
  name:'G0/G1 %', nameLocation:'middle', nameGap:58, nameTextStyle:{fontFamily:FA, fontSize:24, color:'#111'}});
function dBars(gi, sets){
  sets.forEach(([name, vals, errs, col], k) => {
    series.push({type:'bar', name, xAxisIndex:gi, yAxisIndex:gi, silent:true, z:2, data:vals,
      barWidth:D_BAR_W, barGap:(D_BAR_GAP * 100) + '%', itemStyle:{color:col}});
    series.push({type:'custom', name:name + ' err', xAxisIndex:gi, yAxisIndex:gi, silent:true, z:3,
      data:vals.map((v, i) => [i, v, errs[i]]), renderItem:barErrRender(k, col)});
  });
}
dBars(17, [['d:DMSO', eduDMSO, eduDMSOErr, C_DMSO], ['d:Palbociclib', eduPalbo, eduPalboErr, C_DPAL], ['d:Alpelisib', eduAlpe, eduAlpeErr, C_DALP], ['d:Combination', eduCombo, eduComboErr, C_DCOM]]);
dBars(18, [['d:DMSO', g1DMSO, g1DMSOErr, C_DMSO], ['d:Palbociclib', g1Palbo, g1PalboErr, C_DPAL], ['d:Alpelisib', g1Alpe, g1AlpeErr, C_DALP], ['d:Combination', g1Combo, g1ComboErr, C_DCOM]]);
function dBrackets(gi, cfg){
  series.push({type:'custom', xAxisIndex:gi, yAxisIndex:gi, silent:true, z:5, clip:false,
    data:dGroups.map((g, i) => [i, cfg.top]), renderItem:bracketRender(cfg)});
}
dBrackets(17, {left:1, right:3, top:64.8, legL:() => 61.8, legR:() => 61.8, labels:eduSigPC});
dBrackets(17, {left:2, right:3, top:56.4, legL:i => eduAlpe[i] + eduAlpeErr[i] + 0.8, legR:i => eduCombo[i] + eduComboErr[i] + 0.8, labels:eduSigAC});
dBrackets(18, {left:1, right:3, top:112, legL:() => 106.8, legR:() => 106.8, labels:g1SigPC});
dBrackets(18, {left:2, right:3, top:97.4, legL:i => g1Alpe[i] + g1AlpeErr[i] + 1.2, legR:i => g1Combo[i] + g1ComboErr[i] + 1.2, labels:g1SigAC});

// ---------------- Panel e ----------------
xAxes.push({gridIndex:19, type:'value', min:0, max:22, axisLine:axLine(1.8, '#666'), axisTick:axTick(7, {customValues:eXTicks}, '#666'),
  axisLabel:lbl(23, FN, {customValues:eXTicks, margin:9, formatter:plain}), splitLine:{show:false},
  name:'Days after treatment starts', nameLocation:'middle', nameGap:60, nameTextStyle:{fontFamily:FN, fontSize:24, color:'#111'}});
yAxes.push({gridIndex:19, type:'value', min:0, max:3000, interval:600, axisLine:axLine(1.8, '#666'), axisTick:axTick(7, {}, '#666'),
  axisLabel:lbl(23, FN, {margin:6, formatter:plain}), splitLine:{show:false},
  name:'Tumor Volume (mm3)', nameLocation:'middle', nameGap:86, nameTextStyle:{fontFamily:FA, fontSize:24, color:'#111'}});
const eSets = {Vehicle:[eVehicle, eVehicleErr, '#000000', '#000000'], Palbociclib:[ePalbo, ePalboErr, C_PAL, C_PAL],
  Alpelisib:[eAlpe, eAlpeErr, '#a3150f', '#8b1a1a'], Combination:[eCombo, eComboErr, C_CO, C_CO]};
['Combination','Palbociclib','Alpelisib','Vehicle'].forEach(n => {
  const [vals, errs, lc, mc] = eSets[n];
  series.push({type:'custom', name:'e:' + n + ' err', xAxisIndex:19, yAxisIndex:19, silent:true, z:2,
    data:eDays.map((d, i) => [d, vals[i], errs[i]]), renderItem:errRender(lc, 6, 1.8)});
  series.push({type:'line', name:'e:' + n, xAxisIndex:19, yAxisIndex:19, silent:true, z:3,
    data:eDays.map((d, i) => [d, vals[i]]), symbol:'circle', symbolSize:18, lineStyle:{color:lc, width:2}, itemStyle:{color:mc}});
});
const eCompX = [23.0, 24.9, 23.5, 27.4];
series.push({type:'custom', xAxisIndex:19, yAxisIndex:19, silent:true, z:5, clip:false,
  data:eCompPairs.map((p, i) => [eCompX[i], 0]),
  renderItem:function(params, api){
    const i = params.dataIndex, p = eCompPairs[i];
    const va = eSets[p[0]][0], vb = eSets[p[1]][0];
    const ya = va[va.length - 1] + 30, yb = vb[vb.length - 1] + 40;
    const a = api.coord([eCompX[i], ya]), b = api.coord([eCompX[i], yb]);
    return {type:'group', children:[
      {type:'line', shape:{x1:a[0], y1:a[1], x2:b[0], y2:b[1]}, style:{stroke:'#222', lineWidth:1.6}},
      {type:'text', x:a[0] + 7, y:(a[1] + b[1]) / 2, style:{text:eCompLabels[i], fontFamily:FA, fontSize:18, fill:'#222', align:'left', verticalAlign:'middle'}}]};
  }});

// ============================ LEGENDS ============================
function cellLegend(cl, left, yc, size, size2, icon, pad, lh2){
  const st = cellStyle[cl], lab = cellLabel[cl];
  let rich, formatter, boxH;
  if (lab) {
    const fB = 'bold ' + size2 + 'px ' + FN, fBI = 'italic bold ' + size2 + 'px ' + FN;
    const W = lab.l2.reduce((s, p) => s + tw(p[0], p[1] === 'i' ? fBI : fB), 0);
    const base = {fontFamily:FN, fontSize:size2, fontWeight:'bold', color:ORANGE, lineHeight:lh2};
    rich = {t:Object.assign({}, base, {width:Math.ceil(W), align:'center', padding:[0,0,0,pad]}),
            i0:Object.assign({}, base, {fontStyle:'italic', padding:[0,0,0,pad]}),
            i:Object.assign({}, base, {fontStyle:'italic'}), n:base};
    formatter = () => '{t|' + lab.l1 + '}\n' + lab.l2.map((p, q) => '{' + (q === 0 && p[1] === 'i' ? 'i0' : p[1]) + '|' + p[0] + '}').join('');
    boxH = Math.max(icon, 2 * lh2);
  } else {
    rich = {p:{fontFamily:FN, fontSize:size, color:'#111', lineHeight:size + 4, padding:[0,0,0,pad]}};
    formatter = () => '{p|' + cl + '}';
    boxH = Math.max(icon, size + 4);
  }
  return {show:true, left, top:Math.round(yc - boxH / 2), padding:0, itemGap:0, itemWidth:icon, itemHeight:icon, selectedMode:false,
    data:[{name:cl, icon:st.symbol, itemStyle:itemSt(st)}], formatter, textStyle:{fontFamily:FN, fontSize:size, rich}};
}
const aLegLeft = [100, 308, 501, 633, 862, 985, 1086, 1272];
const aLegPad = [33, 5, 20, 9, 8, 6, 0, 7];
cellLines.forEach((cl, j) => legends.push(cellLegend(cl, aLegLeft[j], 91, 23, 21, 16, aLegPad[j], 28)));
const cLegLeft = [82, 256, 449, 578, 887, 1033, 1179, 1391];
const cLegPad = [5, 0, 12, 8, 5, 4, 2, 3];
cellLines.forEach((cl, j) => legends.push(cellLegend(cl, cLegLeft[j], 1527, 21, 21, 20, cLegPad[j], 26)));
const stripName = n => n.replace(/^[a-z]:/, '');
[['b:Palbociclib', 521], ['b:PI3K inhibitor', 717], ['b:Combination', 938]].forEach(([n, x]) => {
  legends.push({show:true, left:x, top:594, padding:0, itemWidth:42, itemHeight:20, selectedMode:false, data:[n],
    formatter:stripName, textStyle:{fontFamily:FN, fontSize:22, color:'#111'}});
});
[['d:DMSO', 91, '#8a8a8a'], ['d:Palbociclib', 259, '#1e3f9a'], ['d:Alpelisib', 453, '#c41f2e'], ['d:Combination', 626, '#8f2a92']].forEach(([n, x, c]) => {
  legends.push({show:true, left:x, top:1951, padding:0, itemWidth:19, itemHeight:19, selectedMode:false,
    data:[{name:n, icon:'rect', itemStyle:{color:c, borderWidth:0}}], formatter:v => '{p|' + stripName(v) + '}',
    textStyle:{fontFamily:FA, fontSize:24, color:'#111', rich:{p:{fontFamily:FA, fontSize:24, color:'#111', padding:[0,0,0,6]}}}});
});
legends.push({show:true, left:1105, top:2051, padding:0, orient:'vertical', itemGap:9, itemWidth:30, itemHeight:20, selectedMode:false,
  data:['e:Vehicle', 'e:Palbociclib', 'e:Alpelisib', 'e:Combination'], formatter:stripName,
  textStyle:{fontFamily:FN, fontSize:22, color:'#111', lineHeight:22}});

// ============================ TEXT / RULES ============================
const gfx = [
 T(0, 20, 'a', 44, {family:FA, bold:true, align:'left'}),
 T(413, 30, 'Palbociclib sensitive', 22, {bold:true}),
 HL(158, 720, 55, 2.5, '#333'),
 T(1166, 30, 'Palbociclib resistant', 22, {bold:true}),
 HL(791, 1479, 55, 2.5, '#333'),
 T(304, 152, 'Palbociclib', 22, {bold:true}),
 HL(44, 535, 179, 3, '#222'),
 T(1158, 152, 'Palbociclib+PI3K Inhibitor', 22, {bold:true}),
 HL(628, 1626, 179, 3, '#222'),
 T(862, 218, '+500nM Alpelisib', 19, {bold:true}),
 T(1365, 218, '+50nM GDC-0032', 19, {bold:true}),

 T(0, 597, 'b', 44, {family:FA, bold:true, align:'left'}),
 T(416, 660, 'Palbociclib+Alpelisib', 21, {bold:true}),
 HL(103, 744, 687, 2.5, '#888'),
 T(1237, 660, 'Palbociclib+GDC-0032', 21, {bold:true}),
 HL(918, 1571, 687, 2.5, '#888'),
 RT(245, 709, [['FADU (', 0], ['PIK3CA', 1], [' amp)', 0]], 20, ORANGE, true),
 RT(614, 709, [['CAL27 (', 0], ['PIK3CA', 1], [' WT)', 0]], 20, '#111', false),
 RT(1054, 709, [['FADU (', 0], ['PIK3CA', 1], [' amp)', 0]], 20, ORANGE, true),
 RT(1428, 709, [['PECA-PJ41 (', 0], ['PIK3CA', 1], [' WT)', 0]], 20, '#111', false),
 T(416, 1015, 'Palbociclib+Apitolisib', 21, {bold:true}),
 HL(108, 745, 1041, 2.5, '#888'),
 T(1237, 1015, 'Palbociclib+Pictilisib', 21, {bold:true}),
 HL(922, 1578, 1041, 2.5, '#888'),
 RT(245, 1067, [['FADU (', 0], ['PIK3CA', 1], [' amp)', 0]], 20, ORANGE, true),
 RT(630, 1067, [['SCC9 (', 0], ['PIK3CA', 1], [' WT)', 0]], 20, '#111', false),
 RT(1054, 1067, [['FADU (', 0], ['PIK3CA', 1], [' amp)', 0]], 20, ORANGE, true),
 RT(1432, 1067, [['UPCISCC-131 (', 0], ['PIK3CA', 1], [' WT)', 0]], 20, '#111', false),
 T(842, 1389, 'Palbociclib (µM)', 19),
 T(842, 1416, 'PI3K inhibitor (µM)', 19),

 T(0, 1440, 'c', 44, {family:FA, bold:true, align:'left'}),
 T(411, 1452, 'Palbociclib sensitive', 22, {bold:true}),
 HL(92, 723, 1479, 3, '#111'),
 T(1251, 1452, 'Palbociclib resistant', 22, {bold:true}),
 HL(881, 1577, 1479, 3, '#111'),
 T(256, 1587, 'Alpelisib', 23, {bold:true}),
 T(659, 1587, 'GDC-0032', 23, {bold:true}),
 T(1046, 1587, 'Apitolisib', 23, {bold:true}),
 T(1453, 1587, 'Pictilisib', 23, {bold:true}),

 T(0, 1934, 'd', 44, {family:FA, bold:true, align:'left'}),
 T(252, 2005, 'Cell proliferation rate', 24, {family:FA, bold:true}),
 T(730, 2004, 'Cell Cycle', 24, {family:FA, bold:true}),
 HL(91, 192, 2415, 1.8, '#333'),
 HL(217, 418, 2415, 1.8, '#333'),
 T(139, 2441, 'PIK3CA', 21, {family:FA, italic:true}),
 T(142, 2466, 'mut/amp', 21, {family:FA}),
 RT(292, 2441, [['PIK3CA', 1], [' WT', 0]], 21, '#111', false, FA),
 HL(556, 664, 2412, 1.8, '#333'),
 HL(692, 877, 2412, 1.8, '#333'),
 T(607, 2433, 'PIK3CA', 21, {family:FA, italic:true}),
 T(610, 2460, 'mut/amp', 21, {family:FA}),
 RT(760, 2433, [['PIK3CA', 1], [' WT', 0]], 21, '#111', false, FA),

 T(942, 1934, 'e', 44, {family:FA, bold:true, align:'left'}),
 RT(1295, 1994, [['FADU (', 0], ['PIK3CA', 1], [' amplification)', 0]], 24, '#111', false)
];

// ============================ RENDER ============================
const option = {
  animation:false,
  backgroundColor:'#ffffff',
  textStyle:{fontFamily:FA},
  grid:grids,
  xAxis:xAxes,
  yAxis:yAxes,
  legend:legends,
  series,
  graphic:{elements:gfx}
};
const chart = echarts.init(document.getElementById('chart'), null, {renderer:'canvas', width:1634, height:2480});
chart.setOption(option);
</script>
</body>
</html>
